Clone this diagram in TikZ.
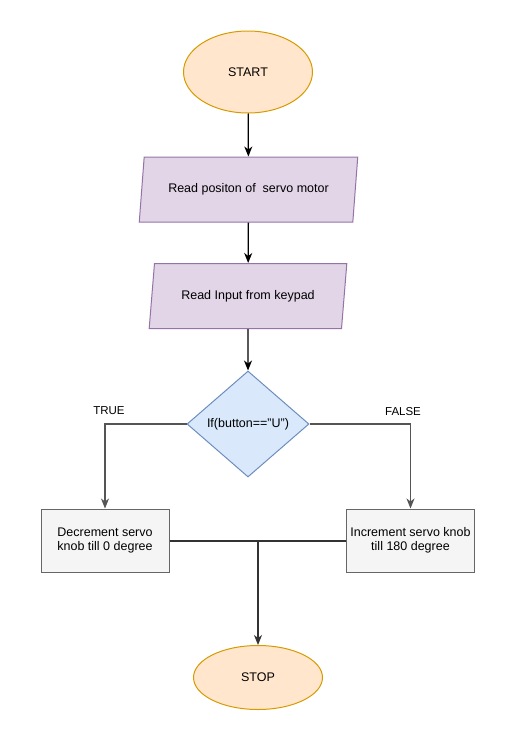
\documentclass[tikz,border=0pt]{standalone}
\usepackage{fontspec}
\setmainfont{Liberation Sans}
\usetikzlibrary{shapes.geometric, arrows.meta, positioning}
\definecolor{termfill}{HTML}{FFE6CC}
\definecolor{termline}{HTML}{D79B00}
\definecolor{iofill}{HTML}{E1D5E7}
\definecolor{ioline}{HTML}{9673A6}
\definecolor{decfill}{HTML}{DAE8FC}
\definecolor{decline}{HTML}{6C8EBF}
\definecolor{actfill}{HTML}{F5F5F5}
\definecolor{actline}{HTML}{666666}
\definecolor{branchline}{HTML}{555555}
\definecolor{joinline}{HTML}{333333}

\begin{document}
\begin{tikzpicture}[x=1pt,y=-1pt,
  every node/.style={font=\fontsize{12.5}{14.5}\selectfont, line width=1pt, inner sep=0pt},
  term/.style={ellipse, draw=termline, fill=termfill, minimum width=129pt},
  io/.style={trapezium, trapezium left angle=72, trapezium right angle=108, trapezium stretches=true, draw=ioline, fill=iofill, minimum height=65pt},
  dec/.style={diamond, draw=decline, fill=decfill, minimum width=122pt, minimum height=106pt},
  act/.style={rectangle, draw=actline, fill=actfill, minimum width=128pt, minimum height=63pt, align=center},
  flow/.style={-{Stealth[length=10pt,width=8pt,inset=3pt]}, line width=1.3pt},
  lbl/.style={font=\fontsize{11.5}{13}\selectfont}]
\useasboundingbox (0,0) rectangle (523,731);
% Debut et lectures
\node[term, minimum height=82pt] (fc_start) at (248,72) {START};
\node[io, minimum width=219pt] (fc_readpos) at (248.5,189.5) {Read positon of\ \ servo motor};
\node[io, minimum width=198pt] (fc_readkey) at (248,296) {Read Input from keypad};
\node[dec] (fc_if) at (248,424) {If(button=="U")};
\draw[flow] (fc_start) -- (fc_readpos);
\draw[flow] (fc_readpos) -- (fc_readkey);
\draw[flow] (fc_readkey) -- (fc_if);
% Branches TRUE / FALSE
\node[act] (fc_dec) at (105,540.5) {Decrement servo\\knob till 0 degree};
\node[act] (fc_inc) at (410.5,540.5) {Increment servo knob\\till 180 degree};
\draw[flow, color=branchline] (fc_if.west) -| (fc_dec.north);
\draw[flow, color=branchline] (fc_if.east) -| (fc_inc.north);
\node[lbl] (fc_true) at (109,411) {TRUE};
\node[lbl] (fc_false) at (403,412) {FALSE};
% Fin
\node[term, minimum height=64pt] (fc_stop) at (258,677.5) {STOP};
\coordinate (fc_join) at (258,541);
\draw[color=joinline, line width=1.3pt] (fc_dec.east |- fc_join) -- (fc_inc.west |- fc_join);
\draw[flow, color=joinline] (fc_join) -- (fc_stop);
\end{tikzpicture}
\end{document}
